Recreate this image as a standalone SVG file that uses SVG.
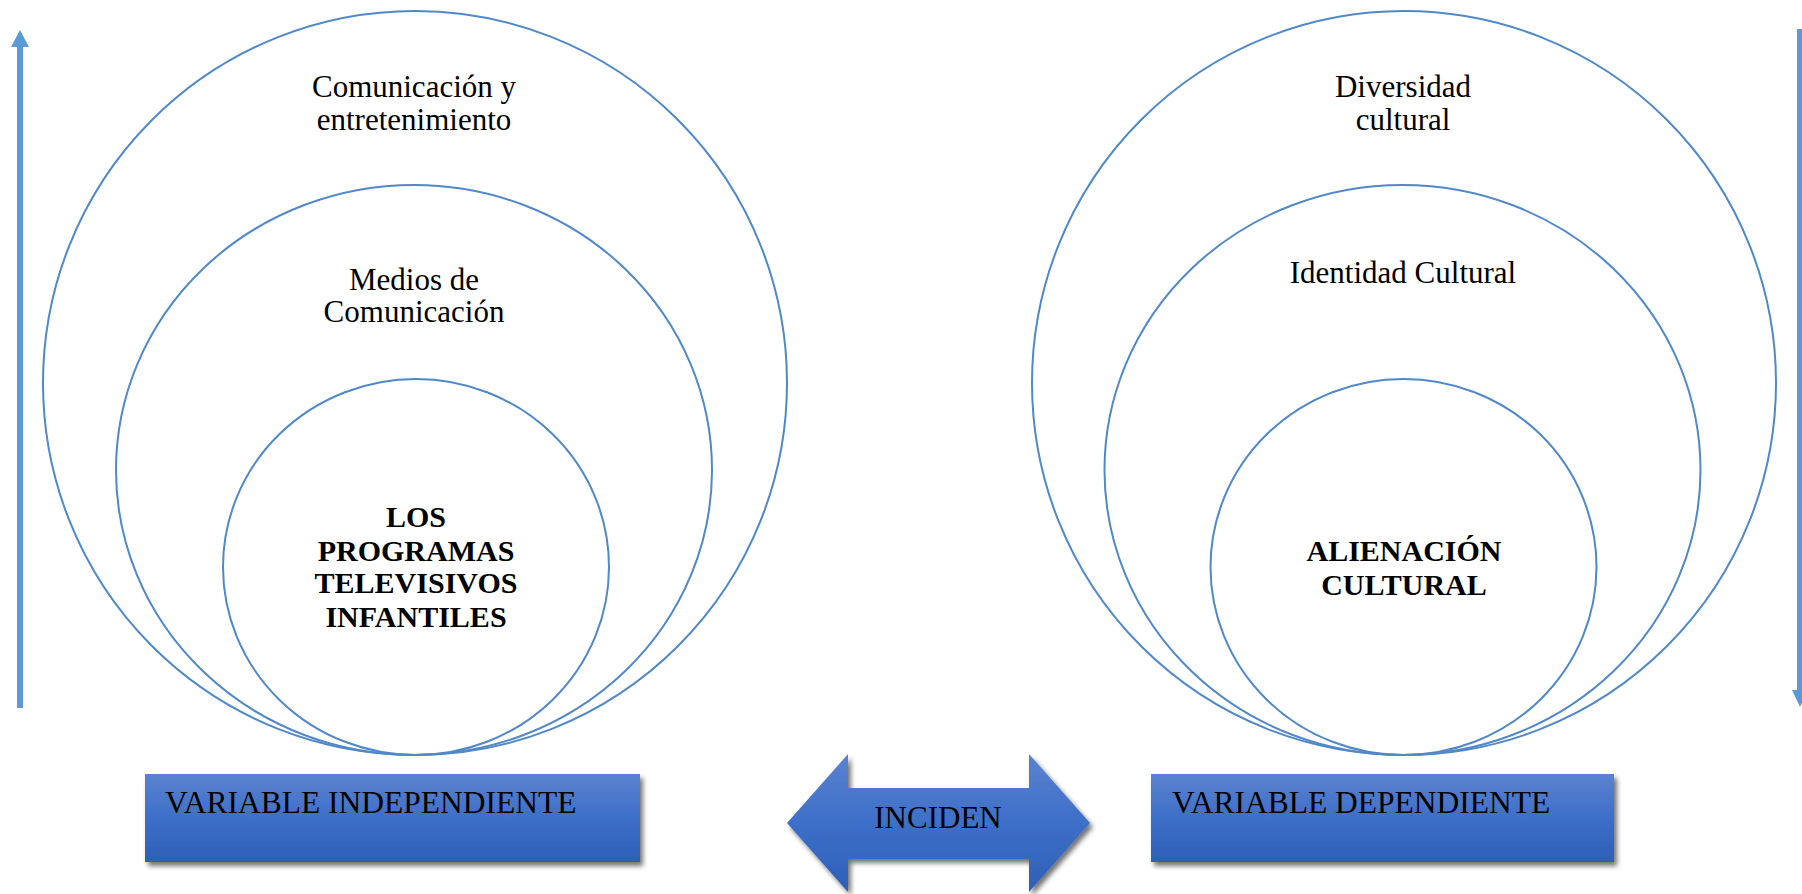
<svg xmlns="http://www.w3.org/2000/svg" width="1802" height="894" viewBox="0 0 1802 894">
<defs>
<linearGradient id="blueGrad" x1="0" y1="0" x2="0" y2="1">
<stop offset="0" stop-color="#5b82cf"/>
<stop offset="0.5" stop-color="#3d6fc8"/>
<stop offset="1" stop-color="#2e5fb6"/>
</linearGradient>
<filter id="shadow" x="-10%" y="-20%" width="125%" height="150%">
<feGaussianBlur in="SourceAlpha" stdDeviation="2.5"/>
<feOffset dx="3" dy="4" result="b"/>
<feComponentTransfer><feFuncA type="linear" slope="0.55"/></feComponentTransfer>
<feMerge><feMergeNode/><feMergeNode in="SourceGraphic"/></feMerge>
</filter>
<style>
.ring{fill:none;stroke:#5088c8;stroke-width:2}
.t{font-family:"Liberation Serif","Times New Roman",serif;font-size:31px;fill:#000;text-anchor:middle}
.b{font-weight:bold;font-size:30px}
.box{fill:url(#blueGrad);filter:url(#shadow)}
.lbl{font-family:"Liberation Serif","Times New Roman",serif;font-size:31.5px;fill:#000}
.va{fill:#5b9bd5}
</style>
</defs>
<rect width="1802" height="894" fill="#fff"/>

<g id="connectors">
<path class="va" d="M17 708 V47 H11 L20 30 L29 47 H23 V708 Z"/>
<path class="va" d="M1797 29 H1803 V690 H1808 L1800 707 L1792 690 H1797 Z"/>
</g>

<g id="left-outer">
<circle class="ring" cx="415" cy="383" r="372"/>
<text class="t" x="414" y="97">Comunicación y</text>
<text class="t" x="414" y="130">entretenimiento</text>
</g>
<g id="left-middle">
<ellipse class="ring" cx="414" cy="470" rx="298" ry="285"/>
<text class="t" x="414" y="290">Medios de</text>
<text class="t" x="414" y="322">Comunicación</text>
</g>
<g id="left-inner">
<ellipse class="ring" cx="416" cy="567" rx="193" ry="188"/>
<text class="t b" x="416" y="527">LOS</text>
<text class="t b" x="416" y="561">PROGRAMAS</text>
<text class="t b" x="416" y="593">TELEVISIVOS</text>
<text class="t b" x="416" y="627">INFANTILES</text>
</g>

<g id="right-outer">
<circle class="ring" cx="1404" cy="383" r="372"/>
<text class="t" x="1403" y="97">Diversidad</text>
<text class="t" x="1403" y="130">cultural</text>
</g>
<g id="right-middle">
<ellipse class="ring" cx="1402.5" cy="470" rx="298" ry="285"/>
<text class="t" x="1403" y="283">Identidad Cultural</text>
</g>
<g id="right-inner">
<ellipse class="ring" cx="1403.5" cy="567" rx="193" ry="188"/>
<text class="t b" x="1404" y="561">ALIENACIÓN</text>
<text class="t b" x="1404" y="595">CULTURAL</text>
</g>

<g id="box-independiente">
<rect class="box" x="145" y="774" width="495" height="88"/>
<text class="lbl" x="165" y="813">VARIABLE INDEPENDIENTE</text>
</g>
<g id="arrow-inciden">
<path class="box" d="M787 823 L848 754 V788 H1029 V754 L1090 823 L1029 892 V859 H848 V892 Z"/>
<text class="t" x="938" y="828">INCIDEN</text>
</g>
<g id="box-dependiente">
<rect class="box" x="1151" y="774" width="463" height="88"/>
<text class="lbl" x="1172" y="813">VARIABLE DEPENDIENTE</text>
</g>
</svg>
